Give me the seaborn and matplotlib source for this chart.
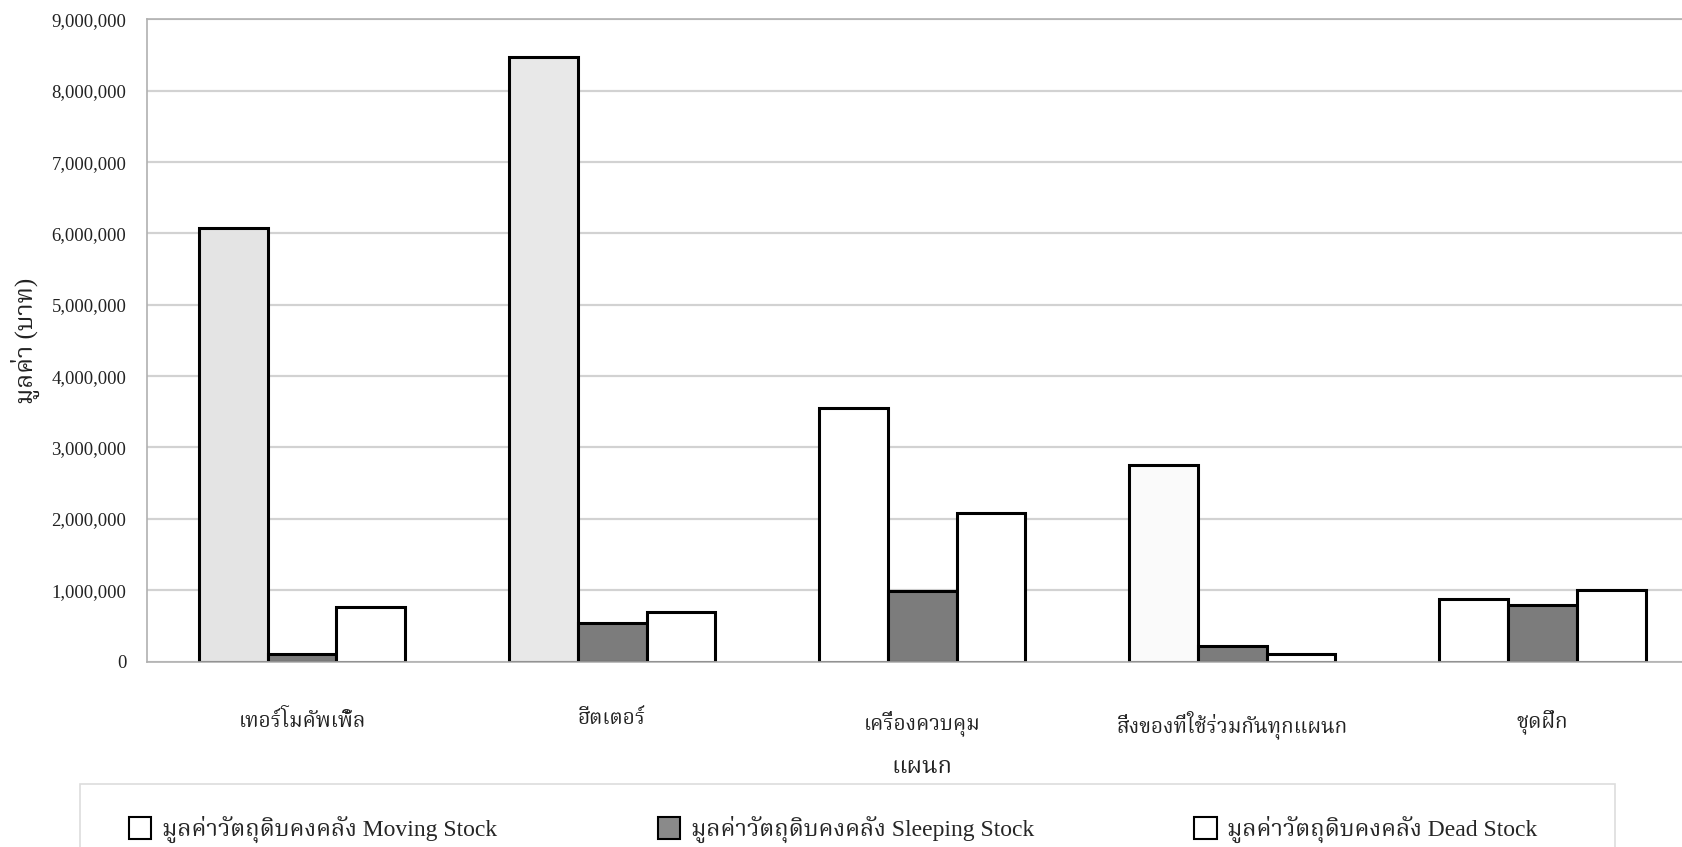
import matplotlib
matplotlib.use("Agg")
import matplotlib.pyplot as plt
from matplotlib.patches import Patch, Rectangle
from matplotlib.ticker import FuncFormatter, MultipleLocator
import seaborn as sns
import pandas as pd

# Departments (x axis)
departments = ["เทอร์โมคัพเพิ้ล", "ฮีตเตอร์", "เครื่องควบคุม",
               "สิ่งของที่ใช้ร่วมกันทุกแผนก", "ชุดฝึก"]

# Stock value per department (baht)
moving_stock = [6080000, 8480000, 3560000, 2760000, 880000]
sleeping_stock = [110000, 540000, 990000, 220000, 790000]
dead_stock = [770000, 700000, 2080000, 110000, 1000000]

series_names = ["มูลค่าวัตถุดิบคงคลัง Moving Stock",
                "มูลค่าวัตถุดิบคงคลัง Sleeping Stock",
                "มูลค่าวัตถุดิบคงคลัง Dead Stock"]

y_label = "มูลค่า (บาท)"
x_label = "แผนก"

df = pd.DataFrame({
    "dept": departments * 3,
    "series": [series_names[0]] * 5 + [series_names[1]] * 5 + [series_names[2]] * 5,
    "value": moving_stock + sleeping_stock + dead_stock,
})

sns.set_theme(style="white")
fonts = ["Liberation Serif", "Noto Serif Thai", "Taviraj", "Sarabun", "DejaVu Sans"]
plt.rcParams["font.family"] = fonts

colors = ["#eeeeee", "#7c7c7c", "#ffffff"]
# light fill shade of the moving-stock bars, per department
moving_fill = ["#e4e4e4", "#e8e8e8", "#ffffff", "#fafafa", "#ffffff"]

fig = plt.figure(figsize=(16.83, 8.47), dpi=100)
ax = fig.add_axes([0.0874, 0.219, 0.9212, 0.758])

sns.barplot(data=df, x="dept", y="value", hue="series", palette=colors,
            edgecolor="black", linewidth=2.2, width=0.665, dodge=True,
            errorbar=None, legend=False, ax=ax)

for patch, fc in zip(ax.containers[0], moving_fill):
    patch.set_facecolor(fc)

ax.set_ylim(0, 9000000)
ax.set_xlim(-0.5, 4.5)
ax.yaxis.set_major_locator(MultipleLocator(1000000))
ax.yaxis.set_major_formatter(FuncFormatter(lambda v, p: f"{int(v):,}"))
ax.yaxis.grid(True, color="#d2d2d2", linewidth=1.6)
ax.set_axisbelow(True)
ax.tick_params(axis="y", length=0, labelsize=13.5, pad=15, labelcolor="#222222")
ax.tick_params(axis="x", length=0, labelsize=15, pad=35, labelcolor="#222222")
for sp in ["left", "top", "bottom"]:
    ax.spines[sp].set_color("#b0b0b0")
    ax.spines[sp].set_linewidth(1.2)
ax.spines["right"].set_visible(False)

ax.set_ylabel(y_label, fontsize=18, labelpad=8, color="#222222")
ax.set_xlabel(x_label, fontsize=17, labelpad=13, color="#222222")

# legend panel along the bottom edge
fig.patches.append(Rectangle((0.0478, -0.05), 0.912, 0.1248,
                             transform=fig.transFigure, facecolor="white",
                             edgecolor="#dddddd", linewidth=1.2, zorder=0))

legend_colors = ["#ffffff", "#8a8a8a", "#ffffff"]
handles = [Patch(facecolor=c, edgecolor="black", linewidth=1.5) for c in legend_colors]
leg = fig.legend(handles, series_names, loc="center left",
                 bbox_to_anchor=(0.0695, 0.021),
                 ncol=3, fontsize=17, frameon=False, handlelength=0.95,
                 handleheight=1.05, handletextpad=0.45, borderpad=0.0,
                 columnspacing=6.8)

fig.savefig("out.png", dpi=100)
